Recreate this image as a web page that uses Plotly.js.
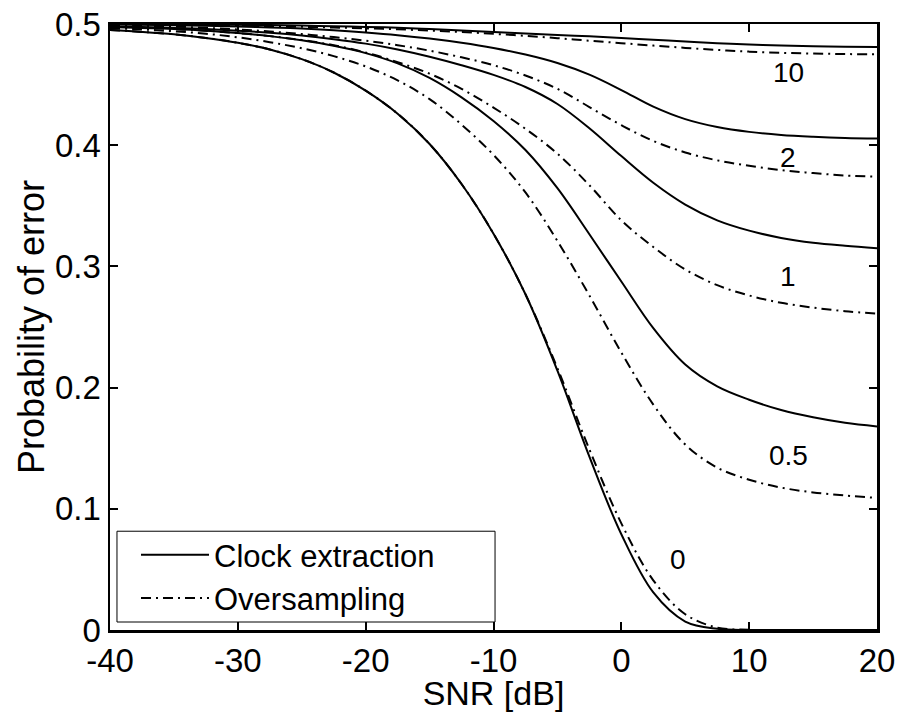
<!DOCTYPE html>
<html><head><meta charset="utf-8">
<script src="https://cdn.plot.ly/plotly-3.0.1.min.js"></script>
<style>html,body{margin:0;padding:0;background:#fff}</style>
</head><body><div id="chart" style="width:902px;height:712px"></div>
<script>
// SNR grid [dB]
const snr = [-40,-37.5,-35,-32.5,-30,-27.5,-25,-22.5,-20,-17.5,-15,-12.5,-10,-7.5,-5,-2.5,0,2.5,5,7.5,10,12.5,15,17.5,20];

// Clock extraction (solid)
const clock_0  = [0.495,0.4935,0.4915,0.4885,0.4845,0.479,0.471,0.460,0.445,0.426,0.401,0.368,0.327,0.277,0.214,0.143,0.079,0.031,0.007,0.001,0,0,0,0,0];
const clock_05 = [0.4975,0.4968,0.4958,0.4944,0.4925,0.490,0.4865,0.482,0.476,0.4675,0.4555,0.4395,0.420,0.396,0.3645,0.3265,0.2875,0.249,0.219,0.201,0.190,0.1815,0.1755,0.171,0.168];
const clock_1  = [0.498,0.4975,0.4968,0.4958,0.4945,0.4928,0.4905,0.4875,0.4838,0.479,0.473,0.466,0.458,0.448,0.434,0.414,0.391,0.369,0.351,0.338,0.3295,0.3235,0.3195,0.317,0.315];
const clock_2  = [0.4995,0.4993,0.499,0.4986,0.498,0.4972,0.4962,0.4948,0.493,0.4908,0.488,0.4845,0.4802,0.4748,0.4678,0.4582,0.4455,0.4318,0.4215,0.415,0.411,0.4085,0.407,0.406,0.4055];
const clock_10 = [0.4999,0.4998,0.4997,0.4996,0.4994,0.4991,0.4987,0.4982,0.4976,0.4969,0.4958,0.4946,0.4934,0.4922,0.491,0.4898,0.4885,0.487,0.4855,0.4842,0.4831,0.4822,0.4816,0.4812,0.481];

// Oversampling (dash-dot)
const over_0   = [0.495,0.4935,0.4915,0.4885,0.4845,0.479,0.471,0.460,0.445,0.426,0.401,0.368,0.327,0.277,0.216,0.149,0.088,0.041,0.013,0.002,0.0002,0,0,0,0];
const over_05  = [0.4965,0.4955,0.494,0.492,0.489,0.485,0.480,0.4735,0.465,0.4535,0.438,0.417,0.392,0.361,0.321,0.276,0.229,0.186,0.153,0.134,0.124,0.1175,0.1135,0.111,0.109];
const over_1   = [0.4975,0.4968,0.4958,0.4944,0.4925,0.490,0.4868,0.4825,0.4765,0.4685,0.459,0.4465,0.431,0.4135,0.393,0.367,0.338,0.316,0.2975,0.2845,0.276,0.270,0.266,0.263,0.261];
const over_2   = [0.499,0.4985,0.4978,0.4968,0.4955,0.4938,0.4917,0.4892,0.4862,0.4825,0.478,0.4725,0.466,0.4575,0.4465,0.4315,0.4165,0.4035,0.394,0.3875,0.383,0.3795,0.377,0.375,0.374];
const over_10  = [0.4997,0.4995,0.4993,0.499,0.4986,0.4982,0.4977,0.4971,0.4964,0.4956,0.4946,0.4934,0.4919,0.4902,0.4883,0.4862,0.4842,0.4822,0.4803,0.4786,0.4772,0.4762,0.4756,0.4752,0.475];

const seriesNames = ['Clock extraction','Oversampling'];
const curveLabels = ['0','0.5','1','2','10'];
const xTickVals = [-40,-30,-20,-10,0,10,20];
const xTickText = ['-40','-30','-20','-10','0','10','20'];
const yTickVals = [0,0.1,0.2,0.3,0.4,0.5];
const yTickText = ['0','0.1','0.2','0.3','0.4','0.5'];

const FONT = 'Liberation Sans, Arial, Helvetica, sans-serif';
const clockSets = [clock_0, clock_05, clock_1, clock_2, clock_10];
const overSets  = [over_0, over_05, over_1, over_2, over_10];

const traces = [];
clockSets.forEach((ys,i)=>{
  traces.push({x:snr, y:ys, type:'scatter', mode:'lines', name:seriesNames[0],
    legendgroup:'c', showlegend:i===0,
    line:{color:'#000', width:2, shape:'spline', smoothing:1}});
});
overSets.forEach((ys,i)=>{
  traces.push({x:snr, y:ys, type:'scatter', mode:'lines', name:seriesNames[1],
    legendgroup:'o', showlegend:i===0,
    line:{color:'#000', width:2, dash:'10px,5px,2px,5px', shape:'spline', smoothing:1}});
});

const labelPos = [[4.4,0.058],[13.05,0.144],[13.05,0.292],[13.05,0.390],[13.05,0.460]];
const annotations = curveLabels.map((t,i)=>({
  x:labelPos[i][0], y:labelPos[i][1], xref:'x', yref:'y', text:t, showarrow:false,
  font:{family:FONT, size:28, color:'#000'}
}));

const layout = {
  width:902, height:712,
  margin:{l:110, r:25, t:24, b:82},
  paper_bgcolor:'#fff', plot_bgcolor:'#fff',
  font:{family:FONT, color:'#000'},
  showlegend:true,
  legend:{x:0.0339, y:0.088, xanchor:'left', yanchor:'middle',
    bgcolor:'rgba(0,0,0,0)', borderwidth:0,
    font:{family:FONT, size:31, color:'#000'}, itemwidth:68, tracegroupgap:0},
  shapes:[{type:'rect', xref:'paper', yref:'paper', x0:0.0091, x1:0.502, y0:0.0132, y1:0.163,
    line:{color:'#000', width:1}, fillcolor:'#fff', layer:'above'}],
  xaxis:{range:[-40,20], tickmode:'array', tickvals:xTickVals, ticktext:xTickText,
    ticks:'inside', ticklen:8, tickwidth:2, tickcolor:'#000',
    showline:true, linecolor:'#000', linewidth:2.5, mirror:'ticks',
    showgrid:false, zeroline:false, automargin:false,
    tickfont:{family:FONT, size:33, color:'#000'},
    title:{text:'SNR [dB]', font:{family:FONT, size:34, color:'#000'}, standoff:3}},
  yaxis:{range:[0,0.5], tickmode:'array', tickvals:yTickVals, ticktext:yTickText,
    ticks:'inside', ticklen:8, tickwidth:2, tickcolor:'#000',
    showline:true, linecolor:'#000', linewidth:2.5, mirror:'ticks',
    showgrid:false, zeroline:false, automargin:false,
    tickfont:{family:FONT, size:33, color:'#000'},
    title:{text:'Probability of error', font:{family:FONT, size:36, color:'#000'}, standoff:0}},
  annotations:annotations
};

Plotly.newPlot('chart', traces, layout, {displayModeBar:false, staticPlot:true});
</script></body></html>
